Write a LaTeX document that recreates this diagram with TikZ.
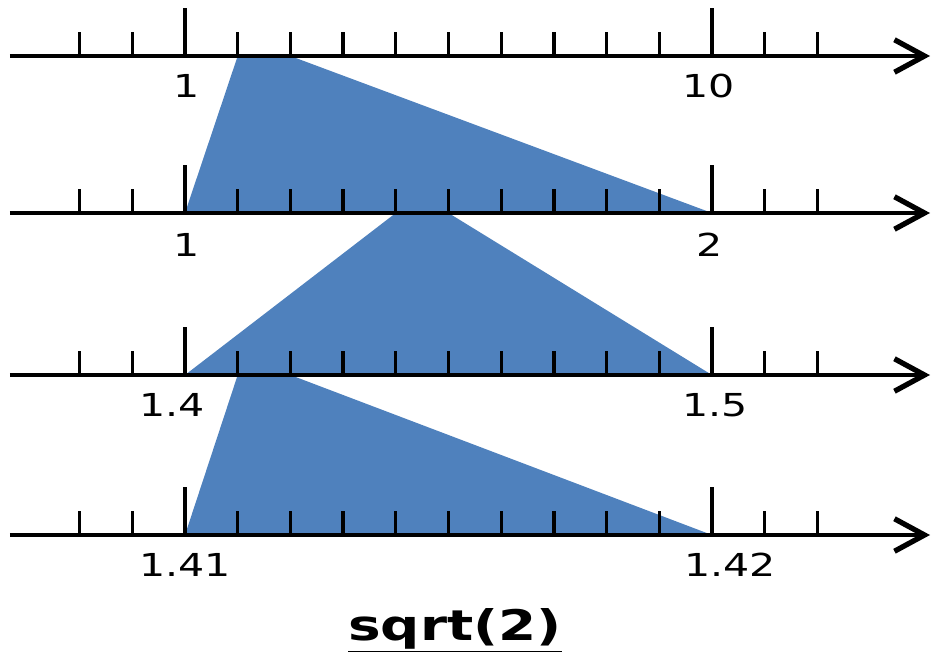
\documentclass[tikz,border=0pt]{standalone}
\usepackage{fontspec}
\newfontfamily\lblfont[FakeStretch=1.3]{DejaVu Sans}
\usetikzlibrary{arrows.meta}
\definecolor{sqblue}{RGB}{79,129,189}

\begin{document}
\begin{tikzpicture}[
  axisline/.style={line width=2.3pt,-{Straight Barb[length=0.6cm,width=0.65cm,line width=3pt]}},
  tickmark/.style={line width=1.9pt},
  lbl/.style={font=\lblfont\fontsize{18}{20}\selectfont,inner sep=0pt}]
  \useasboundingbox (0,0) rectangle (18.62,13.04);
  % zoom wedges between the scales
  \fill[sqblue] (4.754,11.92) -- (5.808,11.92) -- (14.24,8.78) -- (3.70,8.78) -- cycle;
  \fill[sqblue] (7.916,8.78) -- (8.970,8.78) -- (14.24,5.54) -- (3.70,5.54) -- cycle;
  \fill[sqblue] (4.754,5.54) -- (5.808,5.54) -- (14.24,2.34) -- (3.70,2.34) -- cycle;
  % scales
  \foreach \y in {11.92,8.78,5.54,2.34}{
    \draw[axisline] (0.2,\y) -- (18.6,\y);
    \foreach \k in {-2,...,12}
      \draw[tickmark] (3.70+1.054*\k,\y) -- ++(0,0.48);
    \draw[tickmark] (3.70,\y) -- ++(0,0.96);
    \draw[tickmark] (14.24,\y) -- ++(0,0.96);
  }
  % labels
  \node[lbl] (lo1) at (3.74,11.32) {1};
  \node[lbl] (hi1) at (14.18,11.32) {10};
  \node[lbl] (lo2) at (3.74,8.14) {1};
  \node[lbl] (hi2) at (14.20,8.14) {2};
  \node[lbl] (lo3) at (3.44,4.94) {1.4};
  \node[lbl] (hi3) at (14.30,4.94) {1.5};
  \node[lbl] (lo4) at (3.70,1.75) {1.41};
  \node[lbl] (hi4) at (14.60,1.75) {1.42};
  % title
  \node[font=\lblfont\bfseries\fontsize{24}{26}\selectfont,inner sep=0pt,anchor=base]
    (ttl) at (9.10,0.24) {\underline{sqrt(2)}};
\end{tikzpicture}
\end{document}
